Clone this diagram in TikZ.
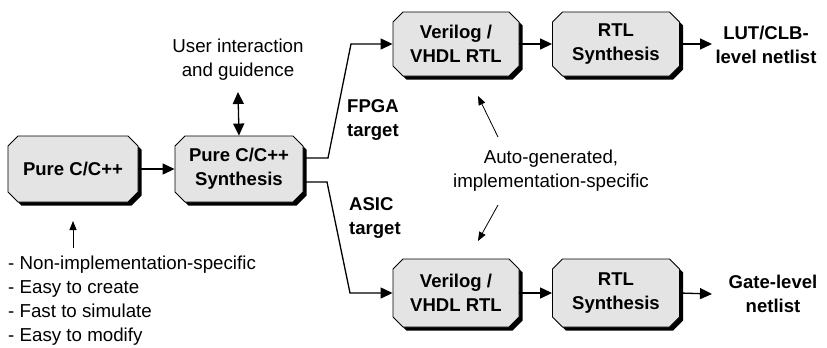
\documentclass[tikz,border=0pt]{standalone}
\usepackage{fontspec}
\setmainfont{Liberation Sans}
\usetikzlibrary{arrows.meta,shapes.misc,shadows}
\definecolor{boxgray}{HTML}{E4E4E4}
\begin{document}
\begin{tikzpicture}[x=1bp,y=-1bp,
  blk/.style={chamfered rectangle, chamfered rectangle xsep=5bp, chamfered rectangle ysep=5bp,
    draw=black, line width=0.9bp, fill=boxgray, align=center, inner sep=0pt,
    font=\fontsize{18.6}{24}\selectfont\bfseries,
    drop shadow={shadow xshift=3.5bp, shadow yshift=-3.5bp, opacity=1, fill=black}},
  txt/.style={inner sep=0pt, font=\fontsize{18.8}{24}\selectfont},
  btxt/.style={inner sep=0pt, font=\fontsize{18.6}{24}\selectfont\bfseries},
  main/.style={line width=1.3bp, -{Triangle[length=12bp,width=11bp]}},
  thin/.style={line width=0.8bp, -{Triangle[length=9bp,width=7bp]}}]
\useasboundingbox (0,0) rectangle (827,347);

\node[blk, minimum width=130bp, minimum height=66bp] (pc) at (73,169) {Pure C/C++};
\node[blk, minimum width=128bp, minimum height=66bp] (syn) at (239,169) {Pure C/C++\\Synthesis};
\node[blk, minimum width=126bp, minimum height=64bp] (v1) at (456,44) {Verilog /\\VHDL RTL};
\node[blk, minimum width=127bp, minimum height=64bp] (r1) at (616,44) {RTL\\Synthesis};
\node[blk, minimum width=126bp, minimum height=68bp] (v2) at (456,293) {Verilog /\\VHDL RTL};
\node[blk, minimum width=127bp, minimum height=68bp] (r2) at (616,293) {RTL\\Synthesis};

\node[txt, align=center] (user) at (238,60) {User interaction\\and guidence};
\node[btxt, align=left, anchor=west] (fpga) at (347,120) {FPGA\\target};
\node[btxt, align=left, anchor=west] (asic) at (349,218) {ASIC\\target};
\node[txt, align=center] (auto) at (551,171) {Auto-generated,\\implementation-specific};
\node[btxt, align=center] (lut) at (766,45) {LUT/CLB-\\level netlist};
\node[btxt, align=center] (gate) at (773,294) {Gate-level\\netlist};
\node[txt, align=left, anchor=west] (list) at (8,301) {- Non-implementation-specific\\- Easy to create\\- Fast to simulate\\- Easy to modify};

\coordinate (ua) at (238,92);
\coordinate (la) at (73,248);
\coordinate (lb) at (73,221);
\coordinate (a1s) at (498,137);
\coordinate (a1e) at (478,96);
\coordinate (a2s) at (498,205);
\coordinate (a2e) at (478,241);
\coordinate (lutin) at (712,44);
\coordinate (gatein) at (712,294);

\draw[main] (pc.east) -- (syn.west);
\draw[line width=1.3bp, {Triangle[length=12bp,width=11bp]}-{Triangle[length=12bp,width=11bp]}] (ua) -- (syn.north);
\draw[main] ([yshift=11bp]syn.east) -- (328,158) -- (351,44) -- (v1.west);
\draw[main] ([yshift=-13bp]syn.east) -- (327,182) -- (350,293) -- (v2.west);
\draw[main] (v1.east) -- (r1.west);
\draw[main] (v2.east) -- (r2.west);
\draw[main] (r1.east) -- (lutin);
\draw[main] (r2.east) -- (gatein);
\draw[thin] (la) -- (lb);
\draw[thin] (a1s) -- (a1e);
\draw[thin] (a2s) -- (a2e);
\end{tikzpicture}
\end{document}
